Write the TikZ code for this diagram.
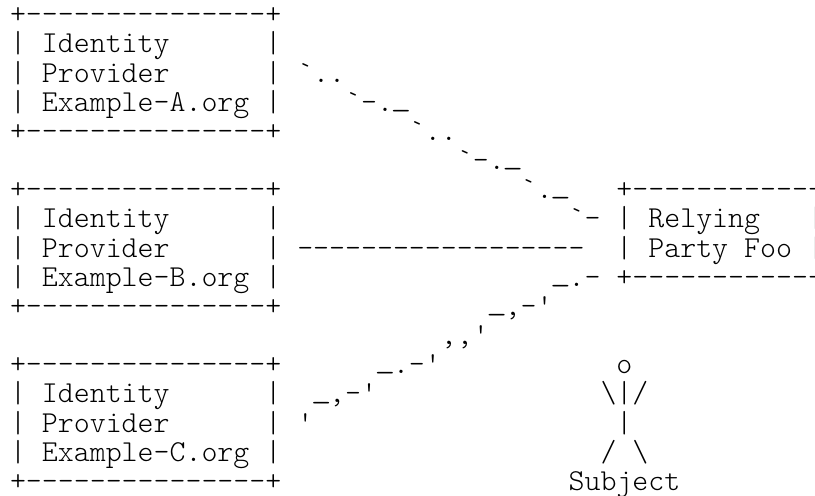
\documentclass[tikz,border=0pt]{standalone}
\usepackage{fontspec}
\setmonofont{Latin Modern Mono Light}
\tikzset{
    asciichar/.style={anchor=base west, inner sep=0pt, outer sep=0pt, font=\ttfamily\fontsize{30.4}{30.4}\selectfont},
}
\newcommand{\boxrule}{+---------------+}
\newcommand{\us}{\makebox[15.96pt]{\raisebox{0.16em}{\scalebox{1.3}[1]{\textunderscore}}}}
\newcommand{\bs}{\textbackslash}
\begin{document}
\begin{tikzpicture}[x=15.96pt, y=-29.17pt]
    \useasboundingbox (-0.627,-0.812) rectangle (50.44,16.19);
    % identity provider boxes
    \foreach \rownum/\idp in {0/A, 6/B, 12/C} {
        \pgfmathtruncatemacro{\rowa}{\rownum+1}
        \pgfmathtruncatemacro{\rowb}{\rownum+2}
        \pgfmathtruncatemacro{\rowc}{\rownum+3}
        \pgfmathtruncatemacro{\rowd}{\rownum+4}
        \node[asciichar] (top\idp) at (0,\rownum) {\boxrule};
        \node[asciichar] (name\idp) at (0,\rowa) {|};
        \node[asciichar] (rname\idp) at (16,\rowa) {|};
        \node[asciichar] at (2,\rowa) {Identity};
        \node[asciichar] (prov\idp) at (0,\rowb) {|};
        \node[asciichar] (rprov\idp) at (16,\rowb) {|};
        \node[asciichar] at (2,\rowb) {Provider};
        \node[asciichar] (org\idp) at (0,\rowc) {|};
        \node[asciichar] (rorg\idp) at (16,\rowc) {|};
        \node[asciichar] at (2,\rowc) {Example-\idp.org};
        \node[asciichar] (bot\idp) at (0,\rowd) {\boxrule};
    }
    % relying party box
    \node[asciichar] (rptop) at (38,6) {+------------};
    \node[asciichar] (rpa) at (38,7) {|};
    \node[asciichar] (rpname) at (40,7) {Relying};
    \node[asciichar] (rpra) at (50,7) {|};
    \node[asciichar] (rpb) at (38,8) {|};
    \node[asciichar] (rpfoo) at (40,8) {Party Foo};
    \node[asciichar] (rprb) at (50,8) {|};
    \node[asciichar] (rpbot) at (38,9) {+------------};
    % links, as row/column/text
    \foreach \rownum/\colnum/\linktext in {
        2/18/{`..}, 3/21/{`-.\us}, 4/25/{`..}, 5/28/{`-.\us}, 6/32/{`.\us}, 7/35/{`-},
        8/18/{------------------},
        9/34/{\us.-}, 10/30/{\us,-'}, 11/27/{,,'}, 12/23/{\us.-'}, 13/19/{\us,-'}, 14/18/{'}} {
        \node[asciichar] (link\rownum) at (\colnum,\rownum) {\linktext};
    }
    % subject figure
    \node[asciichar] (head) at (38,12) {o};
    \node[asciichar] (arms) at (37,13) {\bs|/};
    \node[asciichar] (body) at (38,14) {|};
    \node[asciichar] (legs) at (37,15) {/ \bs};
    \node[asciichar] (subject) at (35,16) {Subject};
\end{tikzpicture}
\end{document}
